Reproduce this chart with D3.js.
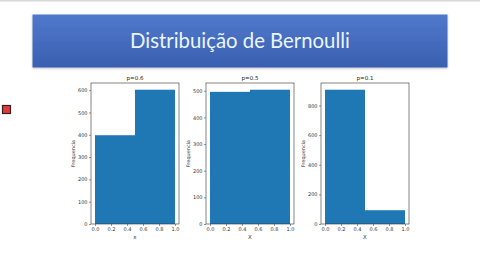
<!DOCTYPE html>
<html>
<head>
<meta charset="utf-8">
<script src="https://cdn.jsdelivr.net/npm/d3@7"></script>
<style>
  body { margin: 0; background: #fff; }
  svg { display: block; }
</style>
</head>
<body>
<div id="chart"></div>
<script>
var slideTitle = "Distribuição de Bernoulli";
var titles = ["p=0.6", "p=0.5", "p=0.1"];
var xLabels = ["x", "X", "X"];
var yLabel = "Frequencia";
var binEdges = [0, 0.5, 1];
var counts06 = [398, 602],
	counts05 = [496, 504],
	counts01 = [907, 93];
var xTicks = [0, 0.2, 0.4, 0.6, 0.8, 1.0];
var yTicks06 = [0, 100, 200, 300, 400, 500, 600],
	yTicks05 = [0, 100, 200, 300, 400, 500],
	yTicks01 = [0, 200, 400, 600, 800];

(function () {
	var width = 480, height = 270;
	var barColor = "#1f77b4";

	var svg = d3.select("#chart").append("svg")
		.attr("width", width)
		.attr("height", height);

	// thin gray strip at the very top of the slide
	svg.append("rect").attr("x", 0).attr("y", 0).attr("width", width).attr("height", 1.5)
		.attr("fill", "#d8d8d8");

	// title banner
	var defs = svg.append("defs");
	var grad = defs.append("linearGradient").attr("id", "banner")
		.attr("x1", 0).attr("y1", 0).attr("x2", 0).attr("y2", 1);
	grad.append("stop").attr("offset", "0%").attr("stop-color", "#5079cb");
	grad.append("stop").attr("offset", "100%").attr("stop-color", "#3a5fb0");
	defs.append("filter").attr("id", "shadow")
		.append("feDropShadow").attr("dx", 0).attr("dy", 1).attr("stdDeviation", 1)
		.attr("flood-color", "#000").attr("flood-opacity", 0.25);

	svg.append("rect").attr("x", 32.5).attr("y", 14.5).attr("width", 415).attr("height", 53)
		.attr("fill", "url(#banner)").attr("filter", "url(#shadow)");

	var t = svg.append("text").attr("x", 240).attr("y", 48)
		.attr("text-anchor", "middle")
		.attr("font-family", "Lato, 'Open Sans', sans-serif")
		.attr("font-size", 22)
		.attr("fill", "#eaf6ff")
		.text(slideTitle);
	var w = t.node().getComputedTextLength();
	t.attr("font-size", 22 * 220 / w);

	// small red marker on the left edge
	svg.append("rect").attr("x", 2.5).attr("y", 105.5).attr("width", 8).attr("height", 8)
		.attr("fill", "#e23a3a").attr("stroke", "#3a2020").attr("stroke-width", 1.2);

	var panels = [
		{title: titles[0], xlab: xLabels[0], counts: counts06, yt: yTicks06},
		{title: titles[1], xlab: xLabels[1], counts: counts05, yt: yTicks05},
		{title: titles[2], xlab: xLabels[2], counts: counts01, yt: yTicks01}
	];
	var lefts = [91, 206, 321];
	var pw = 88, top = 83, bottom = 224;
	var font = "'DejaVu Sans', sans-serif";

	panels.forEach(function (p, i) {
		var x = d3.scaleLinear().domain([-0.05, 1.05]).range([lefts[i], lefts[i] + pw]);
		var ymax = d3.max(p.counts) * 1.05;
		var y = d3.scaleLinear().domain([0, ymax]).range([bottom, top]);

		var g = svg.append("g");

		var bins = p.counts.map(function (c, k) {
			return {x0: binEdges[k], x1: binEdges[k + 1], c: c};
		});
		g.selectAll(".bar").data(bins)
			.enter().append("rect").attr("class", "bar")
				.attr("x", function (d) { return x(d.x0); })
				.attr("y", function (d) { return y(d.c); })
				.attr("width", function (d) { return x(d.x1) - x(d.x0); })
				.attr("height", function (d) { return y(0) - y(d.c); })
				.attr("fill", barColor);

		var xa = g.append("g").attr("transform", "translate(0," + bottom + ")")
			.call(d3.axisBottom(x).tickValues(xTicks).tickFormat(d3.format(".1f"))
				.tickSize(2).tickPadding(1.5));
		var ya = g.append("g").attr("transform", "translate(" + lefts[i] + ",0)")
			.call(d3.axisLeft(y).tickValues(p.yt).tickSize(2).tickPadding(1.5));
		[xa, ya].forEach(function (a) {
			a.select(".domain").remove();
			a.selectAll("line").attr("stroke", "#333").attr("stroke-width", 0.5);
			a.selectAll("text").attr("font-family", font).attr("font-size", 5).attr("fill", "#333");
		});

		g.append("rect").attr("x", lefts[i]).attr("y", top).attr("width", pw).attr("height", bottom - top)
			.attr("fill", "none").attr("stroke", "#333").attr("stroke-width", 0.6);

		g.append("text").attr("x", lefts[i] + pw / 2).attr("y", top - 3)
			.attr("text-anchor", "middle").attr("font-family", font).attr("font-size", 5.5)
			.attr("fill", "#222").text(p.title);
		g.append("text").attr("x", lefts[i] + pw / 2).attr("y", 238.5)
			.attr("text-anchor", "middle").attr("font-family", font).attr("font-size", 5.5)
			.attr("fill", "#333").text(p.xlab);
		g.append("text")
			.attr("transform", "translate(" + (lefts[i] - 16) + "," + ((top + bottom) / 2) + ") rotate(-90)")
			.attr("text-anchor", "middle").attr("font-family", font).attr("font-size", 5)
			.attr("fill", "#333").text(yLabel);
	});
})();
</script>
</body>
</html>
